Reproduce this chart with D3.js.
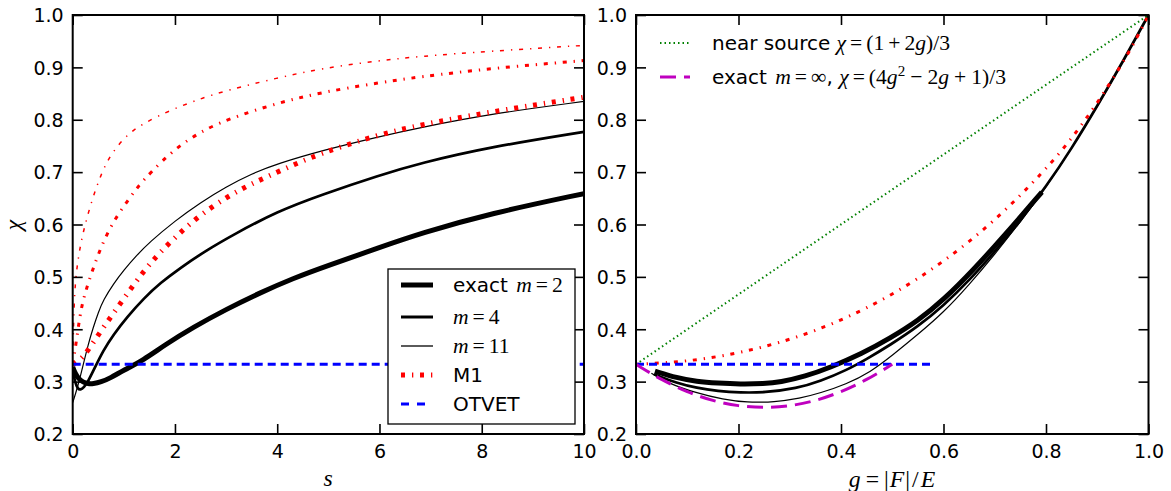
<!DOCTYPE html>
<html><head><meta charset="utf-8">
<script src="https://cdn.jsdelivr.net/npm/d3@7"></script>
<style>
html,body{margin:0;padding:0;background:#fff;}
svg{display:block;}
.tick text{font-family:"DejaVu Sans";font-size:19px;fill:#000;}
</style></head>
<body>
<svg id="chart" width="1171" height="491"></svg>
<script>
// ---------- data: left panel (chi vs s) ----------
const sM2 = [0,0.05,0.12,0.2,0.3,0.4,0.55,0.74,1.0,1.38,1.8,2.36,3.0,3.65,4.3,5.0,6.0,6.8,8.16,10];
const chiM2 = [0.328,0.315,0.305,0.299,0.296,0.296,0.299,0.307,0.322,0.341,0.37,0.404,0.438,0.469,0.497,0.522,0.556,0.583,0.621,0.659];
const sM4 = [0,0.05,0.1,0.15,0.22,0.3,0.41,0.6,0.8,1.06,1.4,1.71,2.1,2.62,3.13,4.0,4.87,6.0,6.79,8.16,10];
const chiM4 = [0.322,0.297,0.286,0.284,0.289,0.3,0.322,0.36,0.39,0.423,0.46,0.488,0.517,0.551,0.58,0.625,0.657,0.694,0.717,0.748,0.777];
const sM11 = [0,0.05,0.1,0.15,0.2,0.3,0.4,0.5,0.6,0.8,1.0,1.25,1.5,2.0,2.5,3.0,3.5,4.0,4.9,6.0,6.79,8.16,10];
const chiM11 = [0.26,0.275,0.292,0.31,0.33,0.37,0.403,0.432,0.456,0.487,0.513,0.541,0.566,0.607,0.642,0.672,0.697,0.716,0.742,0.768,0.785,0.811,0.835];
const sR2 = [0,0.1,0.2,0.3,0.5,0.72,0.93,1.15,1.36,1.6,1.84,2.4,3.0,3.5,4.0,4.83,6.0,6.79,8.16,10];
const chiR2 = [0.333,0.339,0.347,0.36,0.389,0.42,0.449,0.479,0.507,0.535,0.56,0.612,0.652,0.678,0.70,0.736,0.772,0.79,0.815,0.843];
const sR4 = [0,0.02,0.045,0.09,0.14,0.2,0.3,0.4,0.52,0.66,0.85,1.06,1.28,1.51,2.0,2.5,3.0,4.0,4.85,6.0,6.79,8.16,10];
const chiR4 = [0.333,0.345,0.36,0.39,0.424,0.455,0.487,0.516,0.548,0.58,0.614,0.643,0.673,0.698,0.745,0.777,0.80,0.832,0.852,0.871,0.882,0.898,0.913];
const sR11 = [0,0.01,0.02,0.045,0.11,0.2,0.37,0.55,0.73,1.05,1.38,1.9,2.49,3.01,4.0,4.87,6.0,6.79,8.16,10];
const chiR11 = [0.333,0.38,0.42,0.488,0.538,0.585,0.645,0.695,0.732,0.771,0.793,0.818,0.84,0.856,0.88,0.898,0.913,0.921,0.931,0.942];
const sOtvet = [0,10];
const chiOtvetL = [0.333,0.333];

// ---------- data: right panel (chi vs g) ----------
const gM2 = [0.037,0.08,0.118,0.16,0.203,0.25,0.281,0.33,0.379,0.44,0.496,0.55,0.6,0.658,0.72,0.792];
const chiGM2 = [0.32,0.307,0.30,0.297,0.295,0.296,0.299,0.31,0.327,0.353,0.383,0.416,0.456,0.513,0.58,0.662];
const gM4 = [0.035,0.08,0.118,0.16,0.203,0.25,0.314,0.36,0.411,0.45,0.496,0.55,0.6,0.65,0.7,0.75,0.8,0.85,0.9,0.95,1.0];
const chiGM4 = [0.314,0.297,0.288,0.282,0.279,0.279,0.287,0.301,0.322,0.343,0.37,0.405,0.445,0.493,0.548,0.607,0.672,0.745,0.826,0.911,1.0];
const gM11 = [0.03,0.06,0.118,0.17,0.216,0.27,0.32,0.359,0.41,0.457,0.5,0.55,0.6,0.65,0.7,0.75,0.8,0.85,0.9,0.95,1.0];
const chiGM11 = [0.316,0.298,0.278,0.266,0.26,0.261,0.268,0.278,0.295,0.318,0.35,0.39,0.432,0.485,0.543,0.605,0.671,0.745,0.825,0.91,1.0];
const gM1 = [0,0.1,0.2,0.3,0.4,0.5,0.6,0.7,0.8,0.85,0.9,0.95,0.975,1.0];
const chiGM1 = [0.333,0.338,0.354,0.379,0.416,0.465,0.528,0.606,0.705,0.764,0.831,0.909,0.952,1.0];
const gInf = [0,0.05,0.1,0.15,0.2,0.25,0.3,0.35,0.4,0.45,0.5];
const chiInf = [0.333,0.303,0.28,0.263,0.253,0.25,0.253,0.263,0.28,0.303,0.333];
const gNear = [0,0.5,1];
const chiNear = [0.333,0.667,1.0];
const gOtvet = [0,0.578];
const chiOtvetR = [0.333,0.333];

// ---------- ticks ----------
const yTicks = [0.2,0.3,0.4,0.5,0.6,0.7,0.8,0.9,1.0];
const sTicks = [0,2,4,6,8,10];
const gTicks = [0,0.2,0.4,0.6,0.8,1.0];

// ---------- layout ----------
const svg = d3.select("#chart");
const yTop = 15, yBot = 434;
const L = {x0:72.7, x1:584};
const R = {x0:636, x1:1148.5};
const y = d3.scaleLinear().domain([0.2,1.0]).range([yBot,yTop]);
const xs = d3.scaleLinear().domain([0,10]).range([L.x0,L.x1]);
const xg = d3.scaleLinear().domain([0,1]).range([R.x0,R.x1]);

const zip = (a,b)=>a.map((v,i)=>[v,b[i]]);
const DASHDOT = "4,7,1.3,6.7";

function clip(id, x0, x1){
  svg.append("clipPath").attr("id",id).append("rect")
    .attr("x",x0).attr("y",yTop).attr("width",x1-x0).attr("height",yBot-yTop);
}
clip("clipL",L.x0,L.x1); clip("clipR",R.x0,R.x1);

function drawAxes(x, ticks, fmt, P){
  const g = svg.append("g");
  const b = g.append("g").attr("transform",`translate(0,${yBot})`)
    .call(d3.axisBottom(x).tickValues(ticks).tickFormat(fmt).tickSizeInner(-10).tickSizeOuter(0).tickPadding(9));
  const t = g.append("g").attr("transform",`translate(0,${yTop})`)
    .call(d3.axisTop(x).tickValues(ticks).tickFormat("").tickSizeInner(-10).tickSizeOuter(0));
  const l = g.append("g").attr("transform",`translate(${P.x0},0)`)
    .call(d3.axisLeft(y).tickValues(yTicks).tickFormat(d3.format(".1f")).tickSizeInner(-10).tickSizeOuter(0).tickPadding(9));
  const r = g.append("g").attr("transform",`translate(${P.x1},0)`)
    .call(d3.axisRight(y).tickValues(yTicks).tickFormat("").tickSizeInner(-10).tickSizeOuter(0));
  [b,t,l,r].forEach(a=>{a.select(".domain").remove(); a.selectAll(".tick line").attr("stroke","#000").attr("stroke-width",1.6);});
  l.selectAll(".tick text").attr("dy","0.36em");
  b.selectAll(".tick text").attr("dy","0.78em");
  g.append("rect").attr("x",P.x0).attr("y",yTop).attr("width",P.x1-P.x0).attr("height",yBot-yTop)
    .attr("fill","none").attr("stroke","#000").attr("stroke-width",2);
  return g;
}

function curve(clipId, x, xa, ya, color, w, dash){
  const line = d3.line().x(d=>x(d[0])).y(d=>y(d[1])).curve(d3.curveBasis);
  const p = svg.append("path").attr("clip-path",`url(#${clipId})`)
    .attr("d",line(zip(xa,ya))).attr("fill","none").attr("stroke",color).attr("stroke-width",w)
    .attr("stroke-linejoin","round");
  if(dash) p.attr("stroke-dasharray",dash);
  return p;
}

// ---------- left panel curves ----------
curve("clipL", xs, sM2, chiM2, "#000", 5);
curve("clipL", xs, sM4, chiM4, "#000", 2.7);
curve("clipL", xs, sM11, chiM11, "#000", 1.2);
curve("clipL", xs, sR2, chiR2, "#ff0000", 5, DASHDOT);
curve("clipL", xs, sR4, chiR4, "#ff0000", 3, DASHDOT);
curve("clipL", xs, sR11, chiR11, "#ff0000", 1.5, DASHDOT);
curve("clipL", xs, sOtvet, chiOtvetL, "#0000ff", 3, "8,5");

// ---------- right panel curves ----------
curve("clipR", xg, gM2, chiGM2, "#000", 5);
curve("clipR", xg, gM4, chiGM4, "#000", 2.7);
curve("clipR", xg, gM11, chiGM11, "#000", 1.2);
curve("clipR", xg, gM1, chiGM1, "#ff0000", 3, DASHDOT);
curve("clipR", xg, gOtvet, chiOtvetR, "#0000ff", 3, "8,5");
curve("clipR", xg, gNear, chiNear, "#008000", 2, "1.5,3");
curve("clipR", xg, gInf, chiInf, "#bf00bf", 3, "16,8");

// ---------- axes ----------
drawAxes(xs, sTicks, d3.format("d"), L);
drawAxes(xg, gTicks, d3.format(".1f"), R);

// ---------- text helpers ----------
const SANS = "DejaVu Sans", SERIF = "Liberation Serif";
function rich(x, yy, tokens, size, anchor){
  const t = svg.append("text").attr("x",x).attr("y",yy).attr("font-size",size)
    .attr("text-anchor",anchor||"start").attr("fill","#000");
  let raised = 0;
  const ms = size*1.08;
  tokens.forEach(k=>{
    const s = t.append("tspan").text(k.t);
    s.attr("font-family", k.sans ? SANS : SERIF);
    if(!k.sans) s.attr("font-size", ms);
    if(k.it) s.attr("font-style","italic");
    if(k.dx) s.attr("dx",k.dx);
    if(k.sup){ s.attr("font-size",ms*0.7).attr("dy",-size*0.4); raised = size*0.4; }
    else if(raised){ s.attr("dy",raised); raised = 0; }
  });
  return t;
}

// axis labels
rich(328, 486, [{t:"s",it:1}], 22, "middle");
rich(892, 487, [{t:"g",it:1},{t:"=",dx:5},{t:"|",dx:5},{t:"F",it:1,dx:1},{t:"|",dx:1},{t:"/",dx:2},{t:"E",it:1,dx:2}], 22, "middle");
rich(0,0,[{t:"χ",it:1}],22,"middle").attr("transform","translate(21,225) rotate(-90)");

// ---------- left legend ----------
svg.append("rect").attr("x",388).attr("y",269).attr("width",187).attr("height",155)
  .attr("fill","#fff").attr("stroke","#000").attr("stroke-width",1.3);
const legL = [
  {c:"#000",w:5,d:null,tok:[{t:"exact ",sans:1},{t:"m",it:1,dx:2},{t:"=",dx:4},{t:"2",dx:4}]},
  {c:"#000",w:3,d:null,tok:[{t:"m",it:1},{t:"=",dx:4},{t:"4",dx:4}]},
  {c:"#000",w:1.3,d:null,tok:[{t:"m",it:1},{t:"=",dx:4},{t:"11",dx:4}]},
  {c:"#ff0000",w:5,d:DASHDOT,tok:[{t:"M1",sans:1}]},
  {c:"#0000ff",w:3,d:"8,8",tok:[{t:"OTVET",sans:1}]}
];
const legRowsL = [285,317,346,375,404];
legL.forEach((e,i)=>{
  const ly = legRowsL[i];
  const p = svg.append("line").attr("x1",401).attr("x2",433).attr("y1",ly).attr("y2",ly)
    .attr("stroke",e.c).attr("stroke-width",e.w);
  if(e.d) p.attr("stroke-dasharray",e.d);
  rich(453, ly+7, e.tok, 20);
});

// ---------- right legend ----------
const legR = [
  {c:"#008000",w:2,d:"1.5,3",tok:[{t:"near source ",sans:1},{t:"χ",it:1},{t:"=",dx:4},{t:"(1",dx:4},{t:"+",dx:4},{t:"2",dx:4},{t:"g",it:1},{t:")/3"}]},
  {c:"#bf00bf",w:3,d:"16,8",tok:[{t:"exact ",sans:1},{t:"m",it:1,dx:2},{t:"=",dx:4},{t:"∞",dx:4},{t:", ",sans:1},{t:"χ",it:1},{t:"=",dx:4},{t:"(4",dx:4},{t:"g",it:1},{t:"2",sup:1},{t:"−",dx:5},{t:"2",dx:5},{t:"g",it:1},{t:"+",dx:5},{t:"1)/3",dx:5}]}
];
const legRowsR = [43,77];
legR.forEach((e,i)=>{
  const ly = legRowsR[i];
  const p = svg.append("line").attr("x1",660).attr("x2",690).attr("y1",ly).attr("y2",ly)
    .attr("stroke",e.c).attr("stroke-width",e.w);
  if(e.d) p.attr("stroke-dasharray",e.d);
  rich(712, ly+7, e.tok, 20);
});
</script>
</body></html>
